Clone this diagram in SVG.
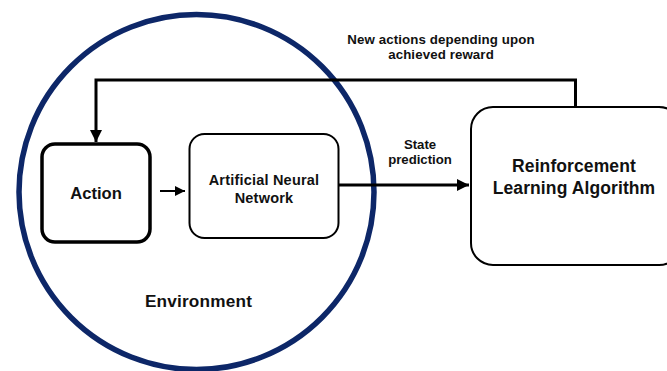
<svg xmlns="http://www.w3.org/2000/svg" width="667" height="371" viewBox="0 0 667 371">
<defs>
<style>
text{font-family:"Liberation Sans",Arial,sans-serif;font-weight:bold;fill:#111;text-anchor:middle}
.box{fill:#fff;stroke:#000}
.conn{fill:none;stroke:#000}
</style>
<marker id="ah" viewBox="0 0 10 10" refX="10" refY="5" markerWidth="4" markerHeight="4" markerUnits="strokeWidth" orient="auto">
<path d="M0,0 L10,5 L0,10 z" fill="#000"/>
</marker>
<marker id="ahs" viewBox="0 0 10 10" refX="10" refY="5" markerWidth="5" markerHeight="5" markerUnits="strokeWidth" orient="auto">
<path d="M0,0 L10,5 L0,10 z" fill="#000"/>
</marker>
</defs>
<rect width="667" height="371" fill="#fff"/>
<g id="environment">
<circle cx="196.5" cy="192" r="177.5" fill="none" stroke="#0d2768" stroke-width="5.5"/>
<text x="198.5" y="307" font-size="17.2" letter-spacing="0.2">Environment</text>
</g>
<g id="action">
<rect class="box" x="42" y="144" width="108" height="98" rx="13" stroke-width="3.5"/>
<text x="96" y="199" font-size="16.6">Action</text>
</g>
<g id="ann">
<rect class="box" x="189.5" y="134" width="149" height="104" rx="15" stroke-width="2"/>
<text x="264" y="185" font-size="14.5" letter-spacing="0.2">Artificial Neural</text>
<text x="264" y="202.5" font-size="14.5" letter-spacing="0.2">Network</text>
</g>
<g id="rl">
<rect class="box" x="471" y="107" width="210" height="158" rx="22" stroke-width="2"/>
<text x="574" y="172" font-size="17.5" letter-spacing="0.1">Reinforcement</text>
<text x="574" y="194" font-size="17.5" letter-spacing="0.1">Learning Algorithm</text>
</g>
<g id="connectors">
<path class="conn" d="M160,191 H185" stroke-width="2" marker-end="url(#ahs)"/>
<path class="conn" d="M339,185 H469" stroke-width="3" marker-end="url(#ah)"/>
<path class="conn" d="M575.5,106 V80 H96 V142" stroke-width="3" marker-end="url(#ah)"/>
<text x="441" y="43.5" font-size="13.3" letter-spacing="0.1">New actions depending upon</text>
<text x="441" y="59" font-size="13.3" letter-spacing="0.1">achieved reward</text>
<text x="420" y="149" font-size="13.2">State</text>
<text x="420" y="164" font-size="13.2">prediction</text>
</g>
</svg>
